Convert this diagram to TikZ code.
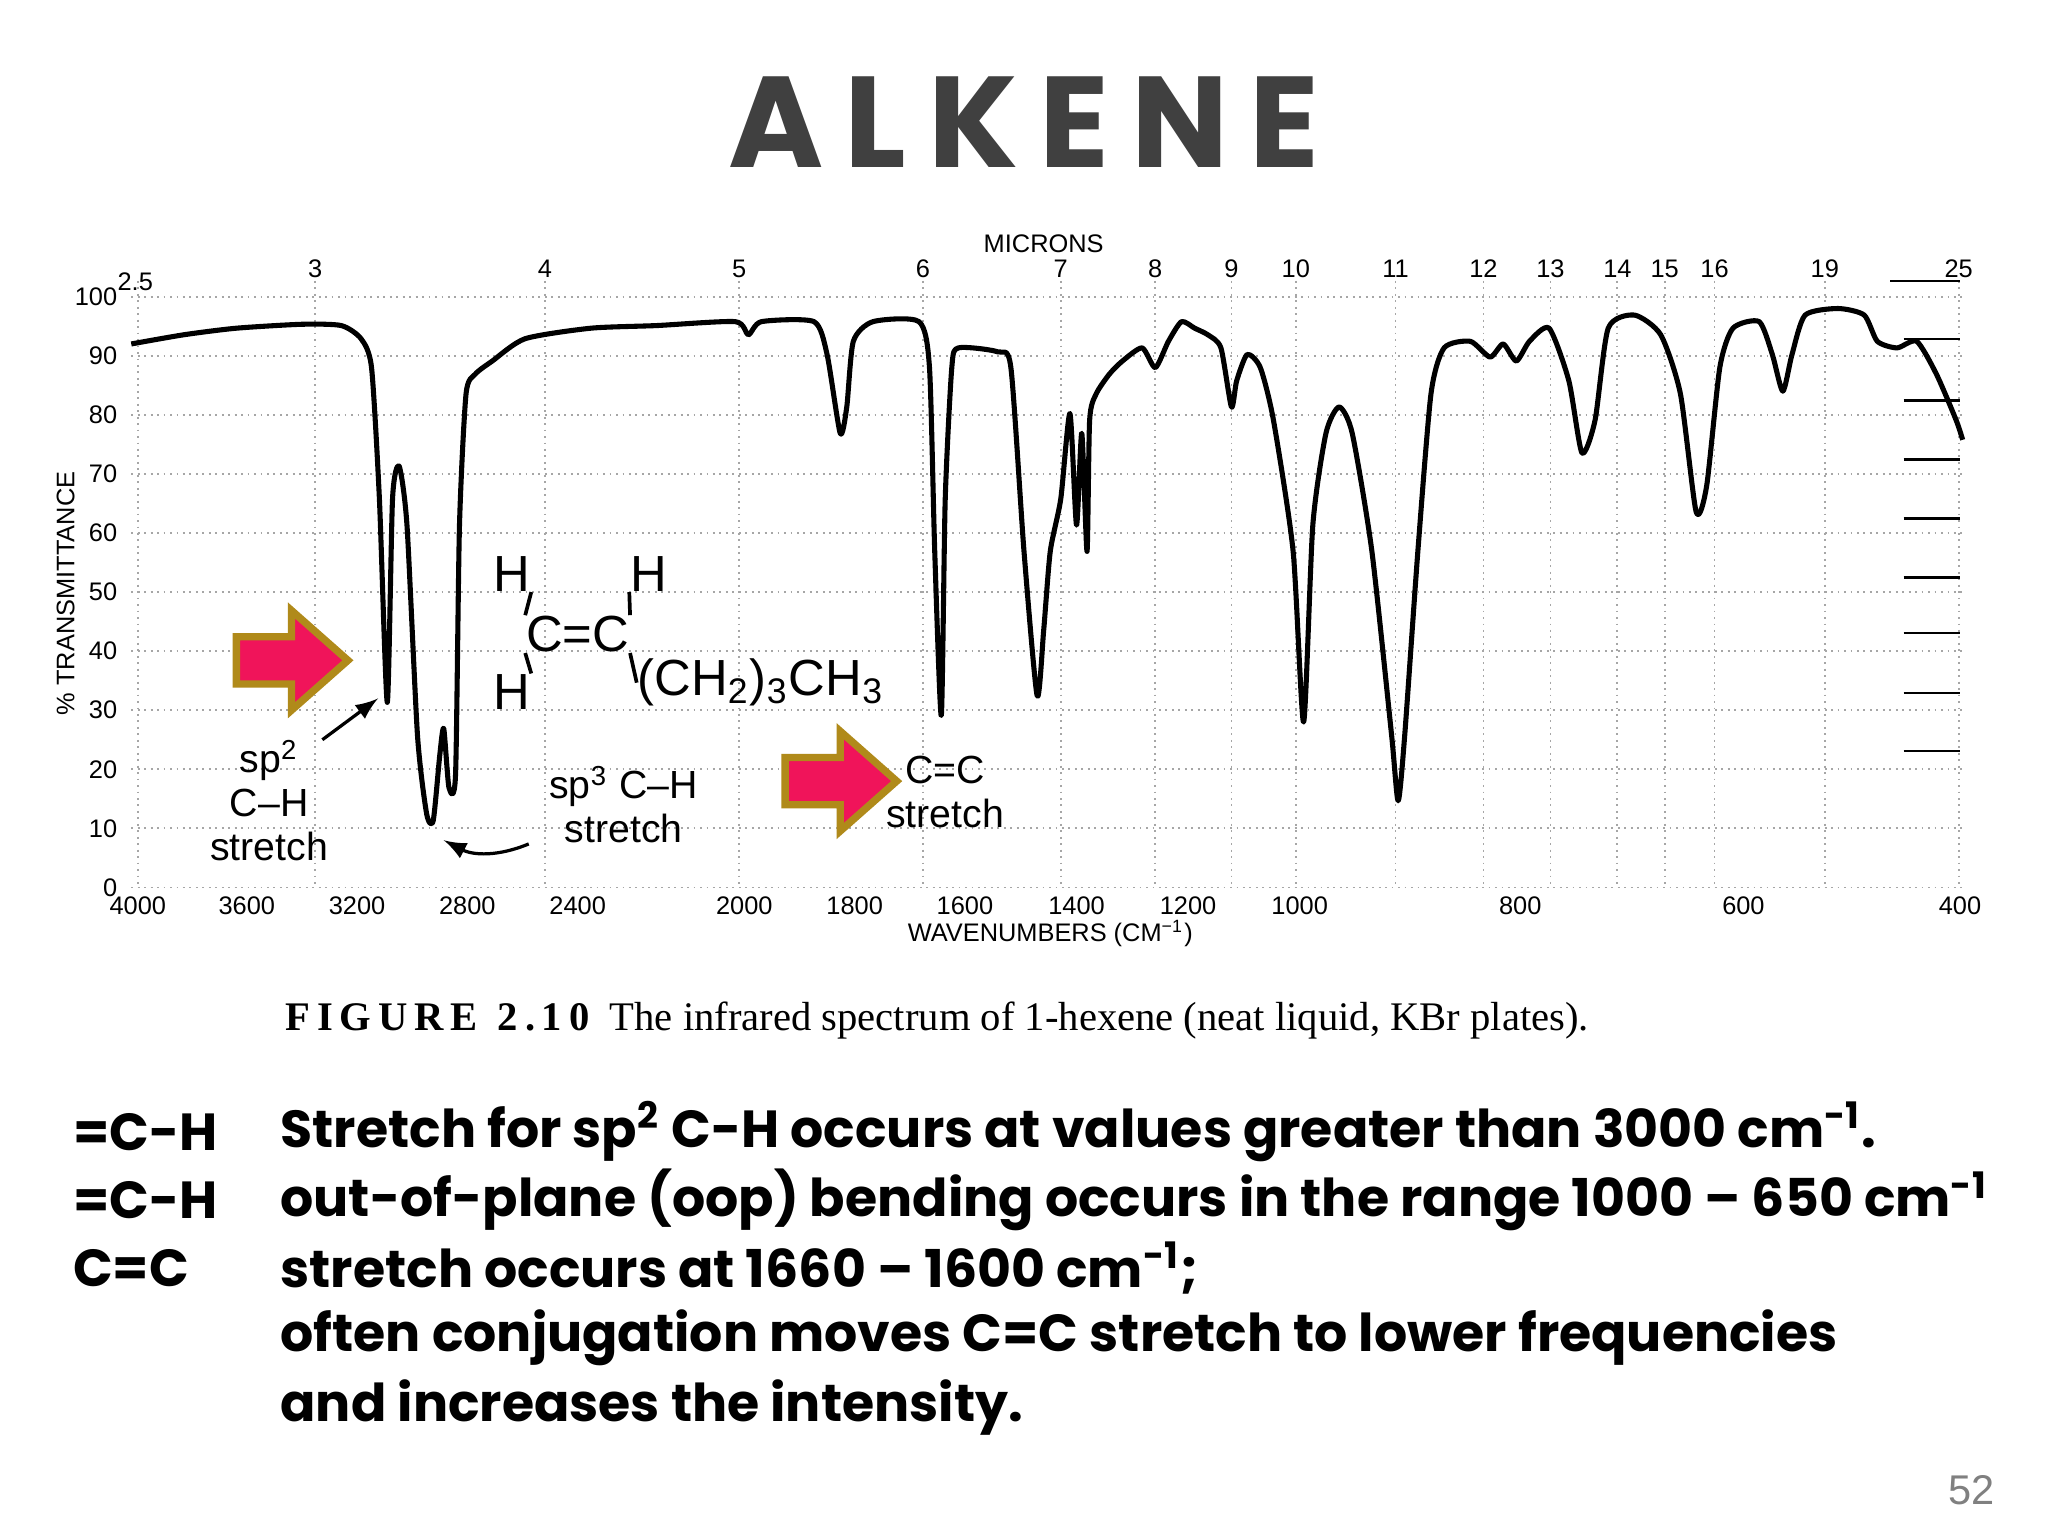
\documentclass[tikz,border=0pt]{standalone}
\usepackage{fontspec}
\setmainfont{Liberation Sans}
\newfontfamily\popp{Poppins}
\newfontfamily\serifc{Liberation Serif}
\begin{document}
\begin{tikzpicture}[x=0.01cm,y=-0.01cm,
  lab/.style={font=\fontsize{5.5}{6}\selectfont,inner sep=0pt},
  anno/.style={font=\fontsize{8.5}{9.5}\selectfont,inner sep=0pt,align=center},
  mol/.style={font=\fontsize{11}{11}\selectfont,inner sep=0pt},
  grid/.style={gray!70,densely dotted,line width=0.4pt},
  pinkarrow/.style={fill={rgb,255:red,240;green,20;blue,90},draw={rgb,255:red,176;green,138;blue,26},line width=1.6pt,line join=miter},
  body/.style={font=\popp\bfseries\fontsize{11.3}{13}\selectfont,anchor=west,inner sep=0pt}]
\useasboundingbox (0,0) rectangle (1560,1170);
\fill[white] (0,0) rectangle (1560,1170);
% title
\node[font=\popp\bfseries\fontsize{28}{28}\selectfont,text={rgb,255:red,64;green,64;blue,64}] (title) at (780,93) {A\,L\,K\,E\,N\,E};
% grid
\foreach \x in {105,240,415,563,703,808,880,938,987,1063,1130,1181,1232,1268,1306,1390,1492}
  \draw[grid] (\x,214) -- (\x,676);
\foreach \v in {0,10,...,100}
  \draw[grid] (100,{676-4.5*\v}) -- (1495,{676-4.5*\v});
\foreach \y in {258,305,350,395,440,482,528,572}
  \draw[black,line width=0.5pt] (1450,\y) -- (1493,\y);
\draw[black,line width=0.5pt] (1440,214) -- (1493,214);
% axis labels
\foreach \v in {0,10,...,100}
  \node[lab,anchor=east] (yl\v) at (90,{676-4.5*\v}) {\v};
\foreach \x/\w in {105/4000,188/3600,272/3200,356/2800,440/2400,567/2000,651/1800,735/1600,820/1400,905/1200,990/1000,1158/800,1328/600,1493/400}
  \node[lab] (xl\w) at (\x,690) {\w};
\foreach \x/\m in {240/3,415/4,563/5,703/6,808/7,880/8,938/9,987/10,1063/11,1130/12,1181/13,1232/14,1268/15,1306/16,1390/19,1492/25}
  \node[lab] (ml\m) at (\x,205) {\m};
\node[lab] (m25) at (103,215) {2.5};
\node[lab] (microns) at (795,186) {MICRONS};
\node[lab] (wn) at (800,711) {WAVENUMBERS (CM\textsuperscript{−1})};
\node[lab,rotate=90] (tr) at (50,452) {\% TRANSMITTANCE};
% spectrum
\draw[black,line width=1.1pt,line join=round] plot[smooth,tension=0.4] coordinates {
(100,262)(140,255)(180,250)(230,247)(260,248)(275,258)(283,280)(289,380)(295,535)(299,380)(304,355)(310,400)(318,560)(325,620)(330,625)(335,575)(338,555)(342,600)(347,590)(350,400)(355,300)(362,285)(375,275)(400,258)(450,250)(500,248)(560,245)(570,255)(580,245)(620,245)(630,270)(640,330)(645,310)(650,260)(665,245)(700,245)(708,280)(712,420)(717,545)(720,380)(725,280)(730,265)(760,268)(770,280)(780,420)(790,530)(795,480)(800,420)(808,380)(815,315)(820,400)(824,330)(828,420)(830,320)(835,300)(845,285)(855,275)(870,265)(880,280)(890,260)(900,245)(910,250)(920,255)(930,265)(938,310)(942,290)(950,270)(960,280)(970,320)(985,420)(993,550)(1000,400)(1010,330)(1020,310)(1030,330)(1045,420)(1060,560)(1065,610)(1070,560)(1080,420)(1090,300)(1100,265)(1120,260)(1135,272)(1145,262)(1155,275)(1165,260)(1180,250)(1195,290)(1205,345)(1215,320)(1225,250)(1245,240)(1265,255)(1280,300)(1292,390)(1300,370)(1310,280)(1320,250)(1340,245)(1350,270)(1358,298)(1365,270)(1375,240)(1400,235)(1420,240)(1430,260)(1445,265)(1460,260)(1475,285)(1490,320)(1495,335)};
% molecule
\node[mol] (h1) at (390,437) {H};
\node[mol] (h2) at (494,437) {H};
\node[mol] (cc) at (440,483) {C=C};
\node[mol] (h3) at (390,527) {H};
\node[mol,anchor=west] (ch) at (485,520) {(CH\textsubscript{2})\textsubscript{3}CH\textsubscript{3}};
\draw[line width=0.8pt] (h1.south east) -- (cc.north west);
\draw[line width=0.8pt] (h2.south west) -- (cc.north east);
\draw[line width=0.8pt] (h3.north east) -- (cc.south west);
\draw[line width=0.8pt] (cc.south east) -- (ch.west);
% pink arrows
\draw[pinkarrow] (180,485) -- (222,485) -- (222,465) -- (265,503) -- (222,541) -- (222,521) -- (180,521) -- cycle;
\draw[pinkarrow] (598,577) -- (640,577) -- (640,557) -- (683,595) -- (640,633) -- (640,613) -- (598,613) -- cycle;
% annotations
\node[anno] (sp2) at (205,610) {sp\textsuperscript{2}\\C--H\\stretch};
\node[anno] (sp3) at (475,613) {sp\textsuperscript{3} C--H\\stretch};
\node[anno] (ccs) at (720,603) {C=C\\stretch};
\coordinate (t2) at (288,532);
\coordinate (t3) at (338,640);
\draw[-latex,line width=0.7pt] (sp2.north east) ++(-5,0) -- (t2);
\draw[-latex,line width=0.7pt] (sp3.south west) ++(-15,0) to[bend left=25] (t3);
% caption
\node[font=\serifc\fontsize{8.8}{10}\selectfont,anchor=west,inner sep=0pt] (cap) at (217,777) {\textbf{F\,I\,G\,U\,R\,E\ \ 2\,.\,1\,0}\ \ The infrared spectrum of 1-hexene (neat liquid, KBr plates).};
% body text
\node[body] (l1) at (55,862) {=C-H};
\node[body] (l2) at (55,914) {=C-H};
\node[body] (l3) at (55,966) {C=C};
\node[body] (r1) at (213,862) {Stretch for sp\textsuperscript{2} C-H occurs at values greater than 3000 cm\textsuperscript{-1}.};
\node[body] (r2) at (213,914) {out-of-plane (oop) bending occurs in the range 1000 \textendash{} 650 cm\textsuperscript{-1}};
\node[body] (r3) at (213,966) {stretch occurs at 1660 \textendash{} 1600 cm\textsuperscript{-1};};
\node[body] (r4) at (213,1019) {often conjugation moves C=C stretch to lower frequencies};
\node[body] (r5) at (213,1072) {and increases the intensity.};
\node[font=\fontsize{9}{9}\selectfont,text=gray] (pg) at (1502,1135) {52};
\end{tikzpicture}
\end{document}
